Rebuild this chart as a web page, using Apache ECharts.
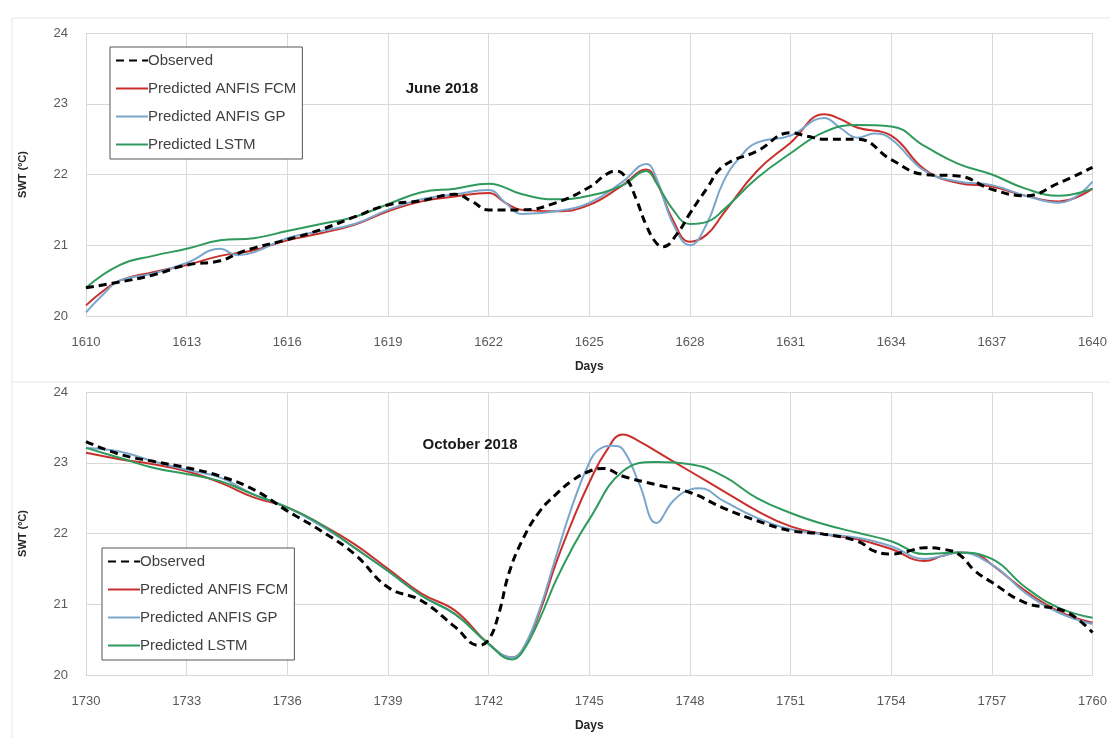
<!DOCTYPE html>
<html>
<head>
<meta charset="utf-8">
<script src="https://cdn.jsdelivr.net/npm/echarts@6/dist/echarts.min.js"></script>
<style>
  html, body { margin: 0; padding: 0; background: #fff; }
  #chart { width: 1110px; height: 738px; }
</style>
</head>
<body>
<div id="chart"></div>
<script>
// Surface water temperature, observed vs. model predictions: [day, °C]
const seriesNames = ['Observed', 'Predicted ANFIS FCM', 'Predicted ANFIS GP', 'Predicted LSTM'];
const panelTitles = ['June 2018', 'October 2018'];
const juneRange = [1610, 1640];
const octRange = [1730, 1760];
const dayStep = 3;
const tempRange = [20, 24];

const juneObserved = [[1610,20.4],[1611,20.48],[1612,20.58],[1613,20.72],[1614,20.78],[1614.5,20.88],[1615,20.96],[1616,21.08],[1617,21.22],[1618,21.4],[1619,21.57],[1620,21.63],[1621,21.72],[1621.5,21.62],[1622,21.5],[1623,21.5],[1624,21.6],[1625,21.82],[1625.5,22.0],[1625.8,22.05],[1626.1,21.95],[1626.4,21.65],[1626.7,21.28],[1627,21.03],[1627.2,20.98],[1627.6,21.15],[1628,21.45],[1628.5,21.8],[1629,22.12],[1630,22.33],[1631,22.59],[1631.5,22.54],[1632,22.5],[1633,22.5],[1634,22.21],[1635,22.0],[1636,21.98],[1637,21.79],[1638,21.7],[1639,21.88],[1640,22.1]];
const juneFCM = [[1610,20.15],[1610.5,20.35],[1611,20.5],[1612,20.62],[1613,20.72],[1614,20.85],[1615,20.93],[1616,21.07],[1617,21.17],[1618,21.29],[1619,21.48],[1620,21.62],[1621,21.69],[1622,21.74],[1622.5,21.6],[1623,21.5],[1624,21.48],[1625,21.57],[1626,21.85],[1626.7,22.07],[1627,21.9],[1627.5,21.35],[1628,21.05],[1628.5,21.15],[1629,21.45],[1630,22.05],[1631,22.45],[1632,22.85],[1632.5,22.78],[1633,22.66],[1634,22.55],[1635,22.07],[1636,21.88],[1637,21.83],[1638,21.7],[1639,21.62],[1640,21.8]];
const juneGP = [[1610,20.05],[1610.5,20.3],[1611,20.5],[1612,20.6],[1613,20.75],[1614,20.95],[1614.5,20.86],[1615,20.9],[1616,21.1],[1617,21.2],[1618,21.3],[1619,21.5],[1620,21.65],[1621,21.72],[1622,21.78],[1622.5,21.6],[1623,21.44],[1624,21.48],[1625,21.6],[1626,21.9],[1626.7,22.15],[1627,21.95],[1627.5,21.3],[1628,21.0],[1628.5,21.3],[1629,21.9],[1629.5,22.25],[1630,22.45],[1631,22.55],[1632,22.8],[1632.5,22.65],[1633,22.52],[1633.5,22.58],[1634,22.5],[1635,22.05],[1636,21.9],[1637,21.85],[1638,21.7],[1639,21.6],[1640,21.9]];
const juneLSTM = [[1610,20.4],[1611,20.72],[1612,20.85],[1613,20.95],[1614,21.07],[1615,21.1],[1616,21.2],[1617,21.3],[1618,21.4],[1619,21.58],[1620,21.75],[1621,21.8],[1622,21.87],[1623,21.72],[1624,21.65],[1625,21.7],[1626,21.85],[1626.7,22.05],[1627,21.88],[1627.5,21.5],[1628,21.3],[1628.5,21.33],[1629,21.5],[1630,21.95],[1631,22.3],[1632,22.6],[1633,22.7],[1634,22.68],[1635,22.4],[1636,22.15],[1637,22.0],[1638,21.8],[1639,21.7],[1640,21.8]];

const octObserved = [[1730,23.3],[1731,23.12],[1732,23.02],[1733,22.93],[1734,22.81],[1735,22.62],[1736,22.32],[1737,22.04],[1738,21.71],[1739,21.24],[1740,21.05],[1741,20.68],[1741.7,20.42],[1742,20.5],[1742.3,20.86],[1742.6,21.43],[1743,21.9],[1743.5,22.3],[1744,22.55],[1744.5,22.75],[1745,22.88],[1745.4,22.92],[1746,22.81],[1747,22.69],[1748,22.58],[1749,22.36],[1750,22.18],[1751,22.04],[1752,21.99],[1753,21.89],[1753.5,21.75],[1754,21.71],[1754.5,21.75],[1755,21.8],[1755.5,21.78],[1756,21.71],[1756.5,21.47],[1757,21.31],[1758,21.02],[1759,20.93],[1759.5,20.81],[1760,20.6]];
const octFCM = [[1730,23.14],[1731,23.05],[1732,22.98],[1733,22.88],[1734,22.72],[1735,22.51],[1736,22.37],[1737,22.13],[1738,21.85],[1739,21.5],[1740,21.15],[1741,20.91],[1742,20.44],[1742.7,20.25],[1743,20.35],[1743.5,20.86],[1744,21.57],[1744.5,22.18],[1745,22.72],[1745.5,23.16],[1746,23.4],[1746.5,23.3],[1747,23.16],[1748,22.88],[1749,22.6],[1750,22.32],[1751,22.1],[1752,21.99],[1753,21.92],[1754,21.78],[1755,21.61],[1755.5,21.68],[1756,21.73],[1756.5,21.71],[1757,21.56],[1758,21.19],[1759,20.9],[1760,20.74]];
const octGP = [[1730,23.21],[1731,23.16],[1732,23.02],[1733,22.9],[1734,22.79],[1735,22.55],[1736,22.37],[1737,22.11],[1738,21.8],[1739,21.47],[1740,21.12],[1741,20.86],[1742,20.44],[1742.7,20.25],[1743,20.35],[1743.5,20.9],[1744,21.66],[1744.5,22.4],[1745,23.0],[1745.3,23.19],[1745.7,23.24],[1746,23.19],[1746.5,22.69],[1747,22.15],[1747.5,22.46],[1748,22.62],[1748.3,22.64],[1749,22.46],[1750,22.22],[1751,22.06],[1752,21.99],[1753,21.94],[1754,21.82],[1755,21.64],[1755.5,21.68],[1756,21.73],[1757,21.56],[1758,21.16],[1759,20.88],[1760,20.72]];
const octLSTM = [[1730,23.21],[1731,23.07],[1732,22.93],[1733,22.84],[1734,22.74],[1735,22.55],[1736,22.37],[1737,22.13],[1738,21.8],[1739,21.47],[1740,21.12],[1741,20.86],[1742,20.44],[1742.7,20.22],[1743,20.32],[1743.5,20.77],[1744,21.33],[1744.5,21.8],[1745,22.2],[1746,22.88],[1747,23.01],[1748,22.98],[1749,22.81],[1750,22.5],[1751,22.29],[1752,22.13],[1753,22.01],[1754,21.89],[1755,21.71],[1756,21.73],[1757,21.64],[1758,21.24],[1759,20.95],[1760,20.81]];

const FONT = 'Liberation Sans';
const TICK_COLOR = '#595959';
const GRID_COLOR = '#d9d9d9';
const lineColors = ['#000000', '#c9302c', '#7ba6cc', '#2e9a5c'];

const chart = echarts.init(document.getElementById('chart'), null, { renderer: 'canvas' });

const grids = [
  { left: 86, right: 10, top: 33, height: 283 },
  { left: 86, right: 10, top: 392, height: 283 }
];

function xAxisFor(idx, range) {
  return {
    type: 'value', gridIndex: idx, min: range[0], max: range[1], interval: dayStep,
    name: 'Days', nameLocation: 'middle', nameGap: 45,
    nameTextStyle: { fontFamily: FONT, fontWeight: 'bold', fontSize: 12, color: '#262626' },
    axisLine: { show: true, lineStyle: { color: GRID_COLOR, width: 1 } },
    axisTick: { show: false },
    axisLabel: { fontFamily: FONT, fontSize: 13, color: TICK_COLOR, margin: 20,
      formatter: (v) => String(v) },
    splitLine: { show: true, lineStyle: { color: GRID_COLOR, width: 1 } }
  };
}
function yAxisFor(idx) {
  return {
    type: 'value', gridIndex: idx, min: tempRange[0], max: tempRange[1], interval: 1,
    name: 'SWT (ºC)', nameLocation: 'middle', nameGap: 58, nameRotate: 90,
    nameTextStyle: { fontFamily: FONT, fontWeight: 'bold', fontSize: 11, color: '#262626' },
    axisLine: { show: false }, axisTick: { show: false },
    axisLabel: { fontFamily: FONT, fontSize: 13, color: TICK_COLOR, margin: 18 },
    splitLine: { show: true, lineStyle: { color: GRID_COLOR, width: 1 } }
  };
}

function lineSeries(name, data, idx, colorIdx) {
  const observed = colorIdx === 0;
  return {
    name, type: 'line', data, xAxisIndex: idx, yAxisIndex: idx,
    smooth: 0.45, showSymbol: false, symbol: 'none',
    z: observed ? 5 : 3,
    color: lineColors[colorIdx],
    lineStyle: observed
      ? { color: lineColors[0], width: 3, type: [8, 5] }
      : { color: lineColors[colorIdx], width: 2 }
  };
}

function legendFor(left, top) {
  return {
    data: seriesNames, orient: 'vertical', left, top,
    itemWidth: 32, itemHeight: 14, itemGap: 13,
    padding: [6, 6, 7, 5],
    borderColor: '#555', borderWidth: 1, backgroundColor: '#fff',
    itemStyle: { opacity: 0 },
    textStyle: { fontFamily: FONT, fontSize: 15, lineHeight: 14, color: '#404040', padding: [0, 0, 0, -5] },
    selectedMode: false
  };
}

const option = {
  backgroundColor: '#ffffff',
  animation: false,
  grid: grids,
  xAxis: [xAxisFor(0, juneRange), xAxisFor(1, octRange)],
  yAxis: [yAxisFor(0), yAxisFor(1)],
  legend: [legendFor(110, 47), legendFor(102, 548)],
  title: [
    { text: panelTitles[0], left: 437, top: 76, textAlign: 'center',
      textStyle: { fontFamily: FONT, fontWeight: 'bold', fontSize: 15, color: '#1a1a1a' } },
    { text: panelTitles[1], left: 465, top: 432, textAlign: 'center',
      textStyle: { fontFamily: FONT, fontWeight: 'bold', fontSize: 15, color: '#1a1a1a' } }
  ],
  graphic: [
    { type: 'line', shape: { x1: 12, y1: 18, x2: 1110, y2: 18 }, style: { stroke: '#e6e6e6', lineWidth: 1 }, silent: true },
    { type: 'line', shape: { x1: 12, y1: 18, x2: 12, y2: 738 }, style: { stroke: '#e6e6e6', lineWidth: 1 }, silent: true },
    { type: 'line', shape: { x1: 12, y1: 382, x2: 1110, y2: 382 }, style: { stroke: '#e6e6e6', lineWidth: 1 }, silent: true }
  ],
  series: [
    lineSeries(seriesNames[1], juneFCM, 0, 1),
    lineSeries(seriesNames[2], juneGP, 0, 2),
    lineSeries(seriesNames[3], juneLSTM, 0, 3),
    lineSeries(seriesNames[0], juneObserved, 0, 0),
    lineSeries(seriesNames[1], octFCM, 1, 1),
    lineSeries(seriesNames[2], octGP, 1, 2),
    lineSeries(seriesNames[3], octLSTM, 1, 3),
    lineSeries(seriesNames[0], octObserved, 1, 0)
  ]
};

chart.setOption(option);
</script>
</body>
</html>
